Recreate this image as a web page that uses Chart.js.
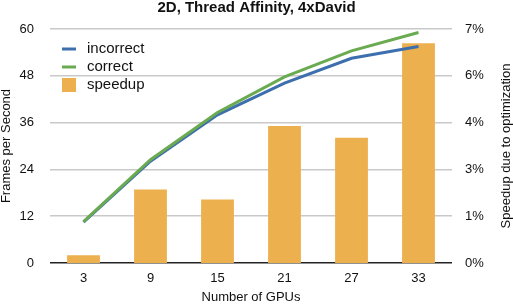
<!DOCTYPE html>
<html>
<head>
<meta charset="utf-8">
<script src="https://cdn.jsdelivr.net/npm/chart.js@4"></script>
<style>
	body { margin: 0; background: #fff; }
	#wrap { width: 513px; height: 306px; }
</style>
</head>
<body>
<div id="wrap"><canvas id="fps-chart"></canvas></div>
<script>
const gpus = ['3', '9', '15', '21', '27', '33'];
const incorrect = [10.5, 26.1, 38.0, 46.1, 52.5, 55.5];
const correct = [10.6, 26.5, 38.6, 47.7, 54.4, 59.1];
const speedup = [0.23, 2.2, 1.9, 4.1, 3.75, 6.57];

const fpsTicks = { min: 0, max: 60, step: 12 };
const pctTicks = { min: 0, max: 7, step: 1.4 };

const fontFamily = 'Liberation Sans, Arial, Helvetica, sans-serif';
const rightTitle = 'Speedup due to optimization';

// legend in the top left corner of the plot, drawn by hand
const cornerLegend = {
	id: 'cornerLegend',
	afterDraw(chart) {
		const ctx = chart.ctx;
		const x = chart.chartArea.left + 12;
		let y = chart.chartArea.top + 20;
		ctx.save();
		ctx.font = '15px ' + fontFamily;
		ctx.textBaseline = 'middle';
		chart.data.datasets.forEach((ds) => {
			if (ds.type === 'line') {
				ctx.strokeStyle = ds.borderColor;
				ctx.lineWidth = 3;
				ctx.beginPath();
				ctx.moveTo(x, y);
				ctx.lineTo(x + 14, y);
				ctx.stroke();
			} else {
				ctx.fillStyle = ds.backgroundColor;
				ctx.fillRect(x, y - 7, 14, 14);
			}
			ctx.fillStyle = '#111';
			ctx.fillText(ds.label, x + 25, y);
			y += 18;
		});
		ctx.restore();
	},
};

// right axis title reads bottom to top
const rightAxisTitle = {
	id: 'rightAxisTitle',
	afterDraw(chart) {
		const ctx = chart.ctx;
		const area = chart.chartArea;
		ctx.save();
		ctx.translate(506, (area.top + area.bottom) / 2);
		ctx.rotate(-Math.PI / 2);
		ctx.font = '13px ' + fontFamily;
		ctx.fillStyle = '#111';
		ctx.textAlign = 'center';
		ctx.textBaseline = 'middle';
		ctx.fillText(rightTitle, 0, 0);
		ctx.restore();
	},
};

function fpsChart() {
	const ctx = document.getElementById('fps-chart');

	if (!ctx) {
		return;
	}

	new Chart(ctx, {
		type: 'bar',
		data: {
			labels: gpus,
			datasets: [
				{
					type: 'line',
					label: 'incorrect',
					data: incorrect,
					borderColor: '#3d6fae',
					backgroundColor: '#3d6fae',
					borderWidth: 3,
					pointRadius: 0,
					yAxisID: 'y',
					order: 1,
				},
				{
					type: 'line',
					label: 'correct',
					data: correct,
					borderColor: '#6aaa50',
					backgroundColor: '#6aaa50',
					borderWidth: 3,
					pointRadius: 0,
					yAxisID: 'y',
					order: 0,
				},
				{
					type: 'bar',
					label: 'speedup',
					data: speedup,
					backgroundColor: '#edb04f',
					borderWidth: 0,
					categoryPercentage: 0.5,
					barPercentage: 0.98,
					yAxisID: 'y1',
					order: 2,
				},
			],
		},
		options: {
			responsive: true,
			maintainAspectRatio: false,
			animation: false,
			layout: { padding: 0 },
			plugins: {
				legend: { display: false },
				tooltip: { enabled: false },
				title: {
					display: true,
					text: '2D, Thread Affinity, 4xDavid',
					color: '#111',
					font: { family: fontFamily, size: 15, weight: 'bold', lineHeight: 1 },
					padding: { top: 0, bottom: 14 },
				},
			},
			scales: {
				x: {
					grid: { display: false, drawTicks: false },
					border: { display: false },
					ticks: {
						color: '#111',
						padding: 8,
						font: { family: fontFamily, size: 13 },
					},
					title: {
						display: true,
						text: 'Number of GPUs',
						color: '#111',
						font: { family: fontFamily, size: 13 },
						padding: { top: 0, bottom: 1 },
					},
					afterFit(scale) {
						scale.height = 43;
					},
				},
				y: {
					position: 'left',
					min: fpsTicks.min,
					max: fpsTicks.max,
					border: { display: false },
					grid: {
						drawTicks: false,
						lineWidth: 1.5,
						color: (c) => (c.tick && c.tick.value === 0 ? '#222' : '#c9c9c9'),
					},
					ticks: {
						stepSize: fpsTicks.step,
						color: '#111',
						padding: 16,
						font: { family: fontFamily, size: 13 },
					},
					title: {
						display: true,
						text: 'Frames per Second',
						color: '#111',
						font: { family: fontFamily, size: 13, lineHeight: 1 },
						padding: { top: 0, bottom: 0 },
					},
					afterFit(scale) {
						scale.width = 50;
					},
				},
				y1: {
					position: 'right',
					min: pctTicks.min,
					max: pctTicks.max,
					border: { display: false },
					grid: { display: false, drawTicks: false },
					ticks: {
						stepSize: pctTicks.step,
						color: '#111',
						padding: 13,
						font: { family: fontFamily, size: 13 },
						callback: (value) => Math.round(value) + '%',
					},
					afterFit(scale) {
						scale.width = 61;
					},
				},
			},
		},
		plugins: [cornerLegend, rightAxisTitle],
	});
}

document.addEventListener('DOMContentLoaded', () => {
	fpsChart();
});
</script>
</body>
</html>
